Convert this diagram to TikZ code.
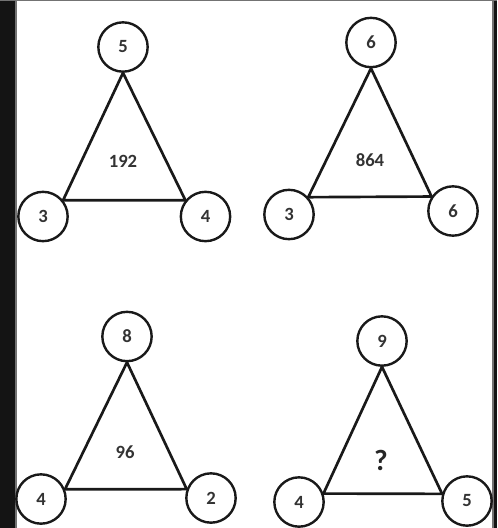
\documentclass[tikz,border=0pt]{standalone}
\usepackage{fontspec}
\setmainfont{Carlito}
\begin{document}
\begin{tikzpicture}[x=0.75pt,y=-0.75pt,
  num/.style={circle,draw=black!90,line width=1.8pt,minimum size=37pt,inner sep=0pt,
    font=\bfseries\fontsize{14}{16}\selectfont,text=black!80},
  mid/.style={font=\bfseries\fontsize{14}{16}\selectfont,text=black!80},
  edge/.style={draw=black!90,line width=2pt,line join=round}]
\useasboundingbox (0,0) rectangle (497,528);
\fill[white] (0,0) rectangle (497,528);
\fill[black!92] (0,0) rectangle (15,528);
\fill[black!92] (494,0) rectangle (497,528);
\fill[black!55] (15,0) rectangle (16.5,528);
\fill[black!55] (0,0) rectangle (497,1.5);
\fill[black!55] (492,0) rectangle (494,528);
% panel 1
\node[num] (a1) at (123,47) {5};
\node[num] (b1) at (43,216.5) {3};
\node[num] (c1) at (205.5,216.5) {4};
\node[mid] (t1) at (123,161) {192};
\draw[edge] (a1.south) -- (b1.39) -- (c1.141) -- cycle;
% panel 2
\node[num] (a2) at (371,42.5) {6};
\node[num] (b2) at (289,214.5) {3};
\node[num] (c2) at (453,211) {6};
\node[mid] (t2) at (370,160) {864};
\draw[edge] (a2.south) -- (b2.42) -- (c2.146) -- cycle;
% panel 3
\node[num] (a3) at (127,336.5) {8};
\node[num] (b3) at (41,499) {4};
\node[num] (c3) at (211,498) {2};
\node[mid] (t3) at (125,452) {96};
\draw[edge] (a3.south) -- (b3.22) -- (c3.160) -- cycle;
% panel 4
\node[num] (a4) at (382,341) {9};
\node[num] (b4) at (299,502) {4};
\node[num] (c4) at (467,501) {5};
\node[font=\bfseries\fontsize{22}{24}\selectfont,text=black!85] (t4) at (381,460) {?};
\draw[edge] (a4.south) -- (b4.19) -- (c4.164) -- cycle;
\end{tikzpicture}
\end{document}
